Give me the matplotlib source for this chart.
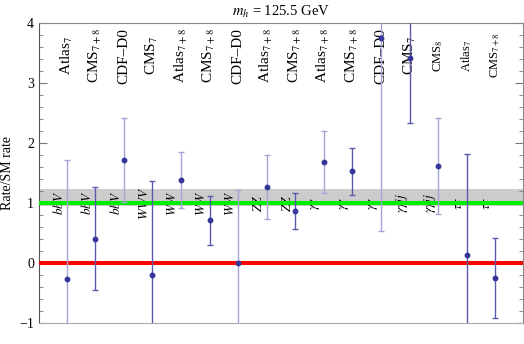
import matplotlib
matplotlib.use("Agg")
import matplotlib.pyplot as plt
import numpy as np

plt.rcParams['font.family'] = ['Liberation Serif', 'DejaVu Serif']
plt.rcParams['mathtext.fontset'] = 'stix'

# experiments and channels, left to right
experiments = [r'Atlas$_7$', r'CMS$_{7+8}$', 'CDF\u2013D0', r'CMS$_7$',
               r'Atlas$_{7+8}$', r'CMS$_{7+8}$', 'CDF\u2013D0', r'Atlas$_{7+8}$',
               r'CMS$_{7+8}$', r'Atlas$_{7+8}$', r'CMS$_{7+8}$', 'CDF\u2013D0',
               r'CMS$_7$', r'CMS$_8$', r'Atlas$_7$', r'CMS$_{7+8}$']
channels = [r'$bbV$', r'$bbV$', r'$bbV$', r'$WWV$', r'$WW$', r'$WW$', r'$WW$',
            r'$ZZ$', r'$ZZ$', r'$\gamma\gamma$', r'$\gamma\gamma$', r'$\gamma\gamma$',
            r'$\gamma\gamma jj$', r'$\gamma\gamma jj$', r'$\tau\tau$', r'$\tau\tau$']

# rate / SM rate, with error bar ends (None = runs off the plot)
rate = [-0.26, 0.41, 1.72, -0.19, 1.38, 0.71, 0.00, 1.27, 0.87, 1.68, 1.53,
        3.74, 3.41, 1.62, 0.13, -0.25]
err_lo = [None, -0.44, 1.02, None, 0.91, 0.31, None, 0.74, 0.57, 1.16, 1.14,
          0.53, 2.33, 0.82, None, -0.92]
err_hi = [1.71, 1.27, 2.42, 1.37, 1.85, 1.11, 1.22, 1.80, 1.16, 2.20, 1.92,
          None, None, 2.42, 1.81, 0.42]

band = (0.95, 1.24)   # grey band around SM

light = [1, 0, 1, 0, 1, 0, 1, 1, 0, 1, 0, 1, 0, 1, 0, 0]
small = [0] * 13 + [1, 1, 1]

ymin, ymax = -1., 4.
x = np.arange(1, len(rate) + 1)

fig = plt.figure(figsize=(5.24, 3.44), dpi=100)
ax = fig.add_axes([39/524., 1 - 323.3/344., (523 - 39)/524., (323.3 - 22.7)/344.])
ax.set_xlim(0.03, 16.97)
ax.set_ylim(ymin, ymax)

ax.axhspan(band[0], band[1], color='#cccccc', lw=0, zorder=0)
ax.axhline(1., color='#00ee00', lw=2.9, zorder=3)
ax.axhline(0., color='#ff0000', lw=2.9, zorder=3)

for i in range(len(rate)):
    col = '#a4a4d6' if light[i] else '#5a5aac'
    lo = err_lo[i] if err_lo[i] is not None else ymin - 1
    hi = err_hi[i] if err_hi[i] is not None else ymax + 1
    ax.vlines(x[i], lo, hi, color=col, lw=1.0, zorder=4)
    caps = [v for v in (err_lo[i], err_hi[i]) if v is not None]
    ax.plot([x[i]] * len(caps), caps, ls='none', marker='_', ms=5,
            mew=1.0, color=col, zorder=4)
    ax.plot(x[i], rate[i], 'o', ms=3.2, color='#36369a', zorder=5)

    fs = 9 if small[i] else 11
    ax.text(x[i], 3.45, experiments[i], rotation=90, ha='center', va='center',
            fontsize=fs, zorder=2)
    ax.text(x[i] - 0.28, 1.0, channels[i], rotation=90, ha='center',
            va='center', fontsize=9.5, zorder=2)

ax.set_yticks(np.arange(-1, 5, 1))
ax.set_yticks(np.arange(-1, 4.01, 0.2), minor=True)
ax.set_yticklabels(['\u22121', '0', '1', '2', '3', '4'], fontsize=10)
ax.set_xticks([])
ax.tick_params(axis='y', which='both', direction='in', right=True,
               colors='#777777', labelcolor='black')
ax.tick_params(axis='y', which='major', length=6, width=0.8)
ax.tick_params(axis='y', which='minor', length=3, width=0.6)

ax.spines['left'].set_color('#555555')
ax.spines['top'].set_color('#888888')
ax.spines['right'].set_color('#888888')
ax.spines['bottom'].set_color('#aaaaaa')
for s in ax.spines.values():
    s.set_linewidth(0.8)

ax.set_ylabel('Rate/SM rate', fontsize=10, labelpad=4)
ax.set_title(r'$m_h$ = 125.5 GeV', fontsize=10.5, pad=5)

fig.savefig('out.png', dpi=100)
